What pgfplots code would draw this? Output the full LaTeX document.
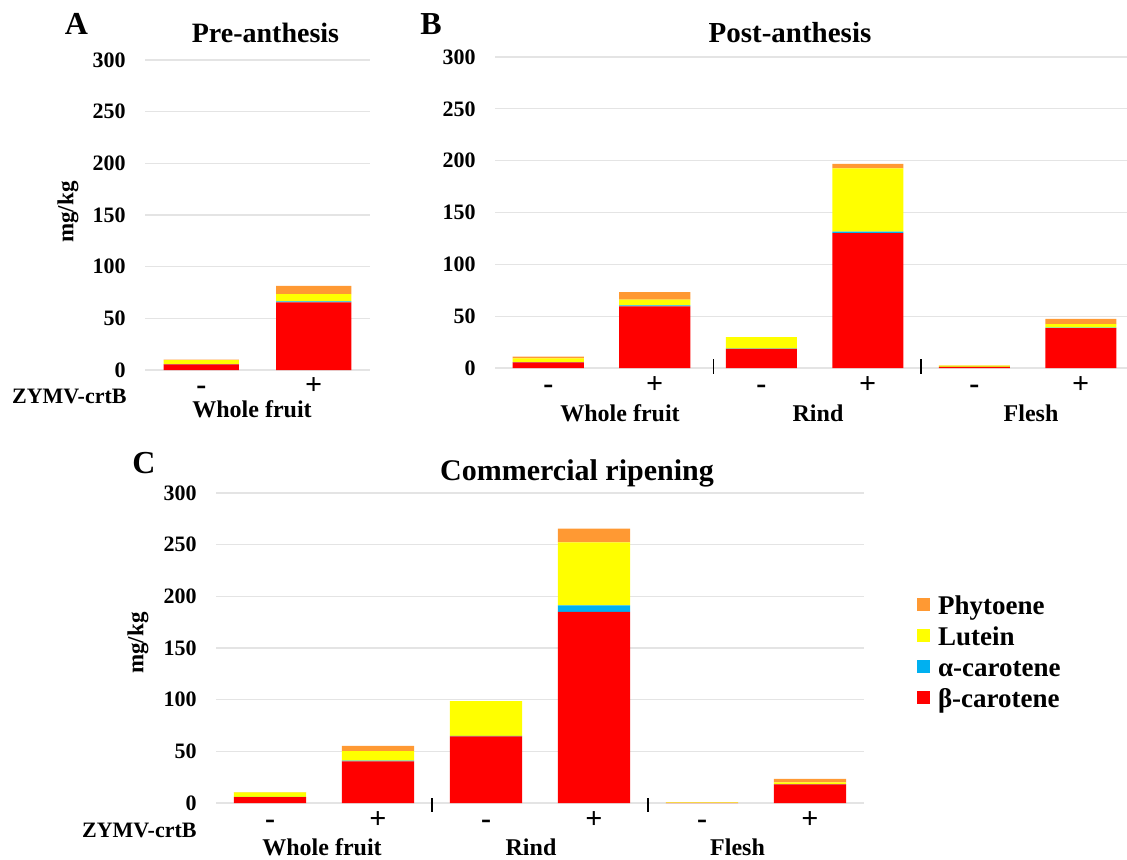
\documentclass[border=0pt]{standalone}
\usepackage{fontspec}
\setmainfont{Liberation Serif}
\usepackage{pgfplots}
\pgfplotsset{compat=1.18}
\definecolor{cBeta}{HTML}{FF0000}
\definecolor{cAlpha}{HTML}{00B0F0}
\definecolor{cLut}{HTML}{FFFF00}
\definecolor{cPhy}{HTML}{FF9933}
\definecolor{gridc}{HTML}{E4E4E4}
\pgfplotsset{
 panel/.style={
  scale only axis,
  ybar stacked,
  bar width=0.667,
  ymin=0, ymax=300,
  ytick={0,50,...,300},
  ymajorgrids,
  grid style={gridc, line width=0.6pt},
  axis line style={draw=none},
  major tick length=0pt,
  xmin=-0.5,
  /pgf/number format/assume math mode=true,
  yticklabel style={font=\bfseries\fontsize{11}{13}\selectfont, anchor=east, inner sep=0pt, xshift=-9.5pt},
  xticklabel style={font=\bfseries\fontsize{15}{17}\selectfont, anchor=base, inner sep=0pt},
  clip=false,
  every axis plot/.append style={draw=none},
 },
}
\begin{document}
\begin{tikzpicture}
\useasboundingbox (0,0) rectangle (563.5pt,429.5pt);
% Panel A
\begin{axis}[panel, at={(72.5pt,244.5pt)}, anchor=south west,
  width=112.5pt, height=155pt, xmax=1.5, xtick={0,1}, xticklabels={-,+},
  xticklabel style={yshift=-12pt}]
\addplot[fill=cBeta] coordinates {(0,5.5) (1,65.5)};
\addplot[fill=cAlpha] coordinates {(0,0.2) (1,0.8)};
\addplot[fill=cLut] coordinates {(0,3.8) (1,7.2)};
\addplot[fill=cPhy] coordinates {(0,0.5) (1,8.0)};
\end{axis}
% Panel B
\begin{axis}[panel, at={(247.5pt,245.5pt)}, anchor=south west,
  width=316pt, height=155.5pt, xmax=5.434, xtick={0,...,5}, xticklabels={-,+,-,+,-,+},
  xticklabel style={yshift=-12.5pt}]
\addplot[fill=cBeta] coordinates {(0,5.5) (1,59.5) (2,18.5) (3,130) (4,1.0) (5,38.5)};
\addplot[fill=cAlpha] coordinates {(0,0.2) (1,1.0) (2,0.3) (3,1.5) (4,0.1) (5,0.5)};
\addplot[fill=cLut] coordinates {(0,3.5) (1,5.5) (2,11.1) (3,61) (4,1.1) (5,3.4)};
\addplot[fill=cPhy] coordinates {(0,1.8) (1,7.3) (2,0) (3,4.5) (4,0.3) (5,5.0)};
\draw[black, line width=0.7pt] ([yshift=4.5pt]axis cs:1.55,0) -- ([yshift=-3pt]axis cs:1.55,0);
\draw[black, line width=0.7pt] ([yshift=4.5pt]axis cs:3.5,0) -- ([yshift=-3pt]axis cs:3.5,0);
\end{axis}
% Panel C
\begin{axis}[panel, at={(108pt,28pt)}, anchor=south west,
  width=324pt, height=155pt, xmax=5.5, xtick={0,...,5}, xticklabels={-,+,-,+,-,+},
  xticklabel style={yshift=-12.5pt},
  reverse legend, legend cell align=left,
  legend image code/.code={\fill[#1] (0pt,-1.25pt) rectangle (6.5pt,5.25pt);},
  legend style={draw=none, fill=none, at={(axis description cs:1.0818,0.668)}, anchor=north west,
    inner sep=0pt, outer sep=0pt, row sep=3pt, column sep=4pt,
    font=\bfseries\fontsize{13.5}{15}\selectfont,
    nodes={inner sep=0pt, text height=9.5pt, text depth=3pt}}]
\addplot[fill=cBeta] coordinates {(0,5.8) (1,40.3) (2,64.5) (3,185) (4,0.1) (5,18)};
\addplot[fill=cAlpha] coordinates {(0,0.1) (1,0.8) (2,0.4) (3,6.3) (4,0) (5,0.3)};
\addplot[fill=cLut] coordinates {(0,4.4) (1,9) (2,33.8) (3,61) (4,0.5) (5,1.7)};
\addplot[fill=cPhy] coordinates {(0,0.3) (1,5.1) (2,0) (3,13.2) (4,0) (5,3.4)};
\legend{β-carotene, α-carotene, Lutein, Phytoene}
\draw[black, line width=0.7pt] ([yshift=2.5pt]axis cs:1.5,0) -- ([yshift=-4.5pt]axis cs:1.5,0);
\draw[black, line width=0.7pt] ([yshift=2.5pt]axis cs:3.5,0) -- ([yshift=-4.5pt]axis cs:3.5,0);
\end{axis}
% Texts
\begin{scope}[every node/.style={inner sep=0pt}]
\node[font=\bfseries\fontsize{16}{18}\selectfont, anchor=base] at (38.25pt,412pt) {A};
\node[font=\bfseries\fontsize{14}{16}\selectfont, anchor=base] at (132.75pt,408pt) {Pre-anthesis};
\node[font=\bfseries\fontsize{16}{18}\selectfont, anchor=base] at (215.5pt,412pt) {B};
\node[font=\bfseries\fontsize{14.5}{16}\selectfont, anchor=base] at (395pt,408pt) {Post-anthesis};
\node[font=\bfseries\fontsize{16}{18}\selectfont, anchor=base] at (72pt,193pt) {C};
\node[font=\bfseries\fontsize{15}{17}\selectfont, anchor=base] at (288.5pt,189.5pt) {Commercial ripening};
\node[font=\bfseries\fontsize{11.5}{13}\selectfont, rotate=90] at (34pt,323.5pt) {mg/kg};
\node[font=\bfseries\fontsize{11.5}{13}\selectfont, rotate=90] at (69pt,108pt) {mg/kg};
\node[font=\bfseries\fontsize{11}{13}\selectfont, anchor=base east] at (63.5pt,228pt) {ZYMV-crtB};
\node[font=\bfseries\fontsize{11}{13}\selectfont, anchor=base east] at (98.5pt,11pt) {ZYMV-crtB};
\node[font=\bfseries\fontsize{12}{14}\selectfont, anchor=base] at (126pt,221pt) {Whole fruit};
\node[font=\bfseries\fontsize{12}{14}\selectfont, anchor=base] at (310pt,219pt) {Whole fruit};
\node[font=\bfseries\fontsize{12}{14}\selectfont, anchor=base] at (409pt,219pt) {Rind};
\node[font=\bfseries\fontsize{12}{14}\selectfont, anchor=base] at (515.5pt,219pt) {Flesh};
\node[font=\bfseries\fontsize{12}{14}\selectfont, anchor=base] at (161pt,2pt) {Whole fruit};
\node[font=\bfseries\fontsize{12}{14}\selectfont, anchor=base] at (265.5pt,2pt) {Rind};
\node[font=\bfseries\fontsize{12}{14}\selectfont, anchor=base] at (368.75pt,2pt) {Flesh};
\end{scope}
\end{tikzpicture}
\end{document}
